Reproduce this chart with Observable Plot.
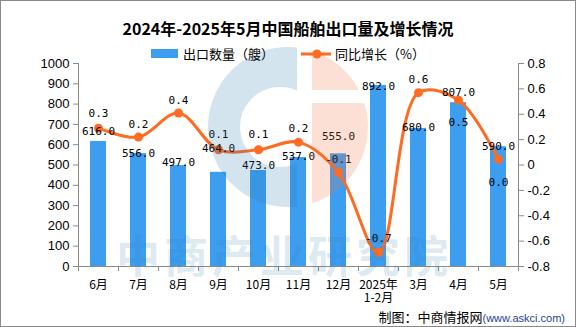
<!DOCTYPE html>
<html><head><meta charset="utf-8">
<script src="https://cdn.jsdelivr.net/npm/d3@7"></script>
<script src="https://cdn.jsdelivr.net/npm/@observablehq/plot@0.6"></script>
<style>
body{margin:0;background:#fff}
#wrap{position:relative;width:576px;height:327px;overflow:hidden;font-family:"Noto Sans CJK SC",sans-serif;color:#000}
#wrap svg.plot{position:absolute;left:0;top:0}
#border{position:absolute;left:0;top:0;width:576px;height:327px;border:1px solid #8a8a8a;box-sizing:border-box;pointer-events:none}
#title{position:absolute;left:0;width:576px;top:17px;text-align:center;font-size:16px;font-weight:700;line-height:22px}
.lg{position:absolute;font-size:13px;line-height:16px;top:46px}
#caption{position:absolute;right:11px;top:309px;font-size:13px;line-height:16px;white-space:nowrap}
#caption span{font-size:11px;color:#1f3f93;font-family:"Liberation Sans",sans-serif}
#wm{position:absolute;left:0;top:0;pointer-events:none}
</style></head>
<body>
<div id="wrap">
  <div id="chart"></div>
  <svg id="wm" width="576" height="327">
    <defs>
      <clipPath id="cl"><rect x="0" y="0" width="297" height="327"/></clipPath>
      <clipPath id="cr"><rect x="312" y="0" width="80" height="90"/><rect x="312" y="103" width="80" height="120"/></clipPath>
    </defs>
    <path clip-path="url(#cl)" fill="#2a7ab0" fill-opacity="0.2" fill-rule="evenodd"
      d="M288,47 a80,80 0 1,0 0.01,0 Z M280,87 a40,40 0 1,0 0.01,0 Z"/>
    <circle clip-path="url(#cr)" cx="288" cy="127" r="80" fill="#f07040" fill-opacity="0.22"/>
    <text x="284" y="273" text-anchor="middle" font-size="44" font-weight="700" letter-spacing="4"
      font-family="Noto Sans CJK SC" fill="#2a7ab0" fill-opacity="0.18">中商产业研究院</text>
  </svg>
  <div id="title">2024年-2025年5月中国船舶出口量及增长情况</div>
  <div style="position:absolute;left:151px;top:49px;width:27px;height:9px;background:#3d9ef0"></div>
  <div class="lg" style="left:183px">出口数量（艘）</div>
  <svg style="position:absolute;left:299px;top:47px" width="34" height="14">
    <line x1="2" y1="7" x2="32" y2="7" stroke="#fe6b21" stroke-width="3"/>
    <circle cx="18" cy="7" r="4.5" fill="#fe6b21"/>
  </svg>
  <div class="lg" style="left:335px">同比增长（%）</div>
  <div id="caption">制图：中商情报网<span>(www.askci.com)</span></div>
  <div id="border"></div>
</div>
<script>
const months = ["6月","7月","8月","9月","10月","11月","12月","2025年\n1-2月","3月","4月","5月"];
const exportsShips = [616,556,497,464,473,537,555,892,680,807,590];
const growth = [0.29,0.22,0.41,0.12,0.12,0.18,-0.06,-0.69,0.57,0.51,0.045];
const leftTicks = [0,100,200,300,400,500,600,700,800,900,1000];
const rightTicks = [-0.8,-0.6,-0.4,-0.2,0,0.2,0.4,0.6,0.8];

const data = months.map((m, i) => ({month: m, value: exportsShips[i], growth: growth[i], i}));
const toY = g => (g + 0.8) / 1.6 * 1000;
const barColor = "#3d9ef0", lineColor = "#fe6b21", axisColor = "#8a8a8a";
const barLabelDy = [-14,-4,-7,-28,-9,-5,-21,-3,-5,-14,-4];
const lineLabelDy = [-19,-17,-17,-19,-19,-18,-17,-18,-17,18,19];
const labelFont = "DejaVu Sans Mono";

const chart = Plot.plot({
  width: 576, height: 327,
  marginLeft: 78, marginRight: 58, marginTop: 63, marginBottom: 61,
  style: {fontFamily: "Liberation Sans, sans-serif", fontSize: "13px", background: "transparent", color: "#000"},
  x: {domain: months, padding: 0, axis: null, label: null},
  y: {domain: [0, 1000], axis: null, label: null},
  marks: [
    Plot.barY(data, {x: "month", y: "value", fill: barColor, insetLeft: 12, insetRight: 12}),
    Plot.ruleY([0], {stroke: axisColor}),
    Plot.ruleX([months[0]], {dx: -20, y1: 0, y2: 1000, stroke: axisColor}),
    Plot.ruleX([months[months.length - 1]], {dx: 20, y1: 0, y2: 1000, stroke: axisColor}),
    Plot.ruleX(months, {dx: -20, y1: 0, y2: -25, stroke: axisColor}),
    Plot.ruleX([months[months.length - 1]], {dx: 20, y1: 0, y2: -25, stroke: axisColor}),
    Plot.axisY({anchor: "left", ticks: leftTicks, tickSize: 5, tickPadding: 4, stroke: axisColor, fill: "#000", fontSize: 13,
      label: null, tickFormat: d => String(d)}),
    Plot.axisY({anchor: "right", ticks: rightTicks.map(toY), tickSize: 5, tickPadding: 4, stroke: axisColor, fill: "#000", fontSize: 13,
      label: null, tickFormat: (v, i) => { const g = rightTicks[i]; return g === 0 ? "0" : g.toFixed(1); }}),
    Plot.axisX({anchor: "bottom", tickSize: 0, tickPadding: 13, fontSize: 12, lineHeight: 1.1, fontFamily: "Noto Sans CJK SC", fill: "#000", label: null}),
    Plot.line(data, {x: "month", y: d => toY(d.growth), curve: "catmull-rom", stroke: lineColor, strokeWidth: 3}),
    Plot.dot(data, {x: "month", y: d => toY(d.growth), r: 4.5, fill: lineColor}),
    Plot.text(data, {x: "month", y: "value", text: d => d.value.toFixed(1), fontSize: 11, fontFamily: labelFont, fill: "#000"}),
    Plot.text(data, {x: "month", y: d => toY(d.growth), text: d => d.growth.toFixed(1), fontSize: 11, fontFamily: labelFont, fill: "#000"})
  ]
});
chart.classList.add("plot");
document.getElementById("chart").appendChild(chart);
// per-label vertical offsets (label placement around bars/points, as in the reference)
const texts = chart.querySelectorAll("g[aria-label=text]");
texts[0].querySelectorAll("text").forEach((t, i) => t.setAttribute("dy", barLabelDy[i] + 4));
texts[1].querySelectorAll("text").forEach((t, i) => t.setAttribute("dy", lineLabelDy[i] + 4));
</script>
</body></html>
